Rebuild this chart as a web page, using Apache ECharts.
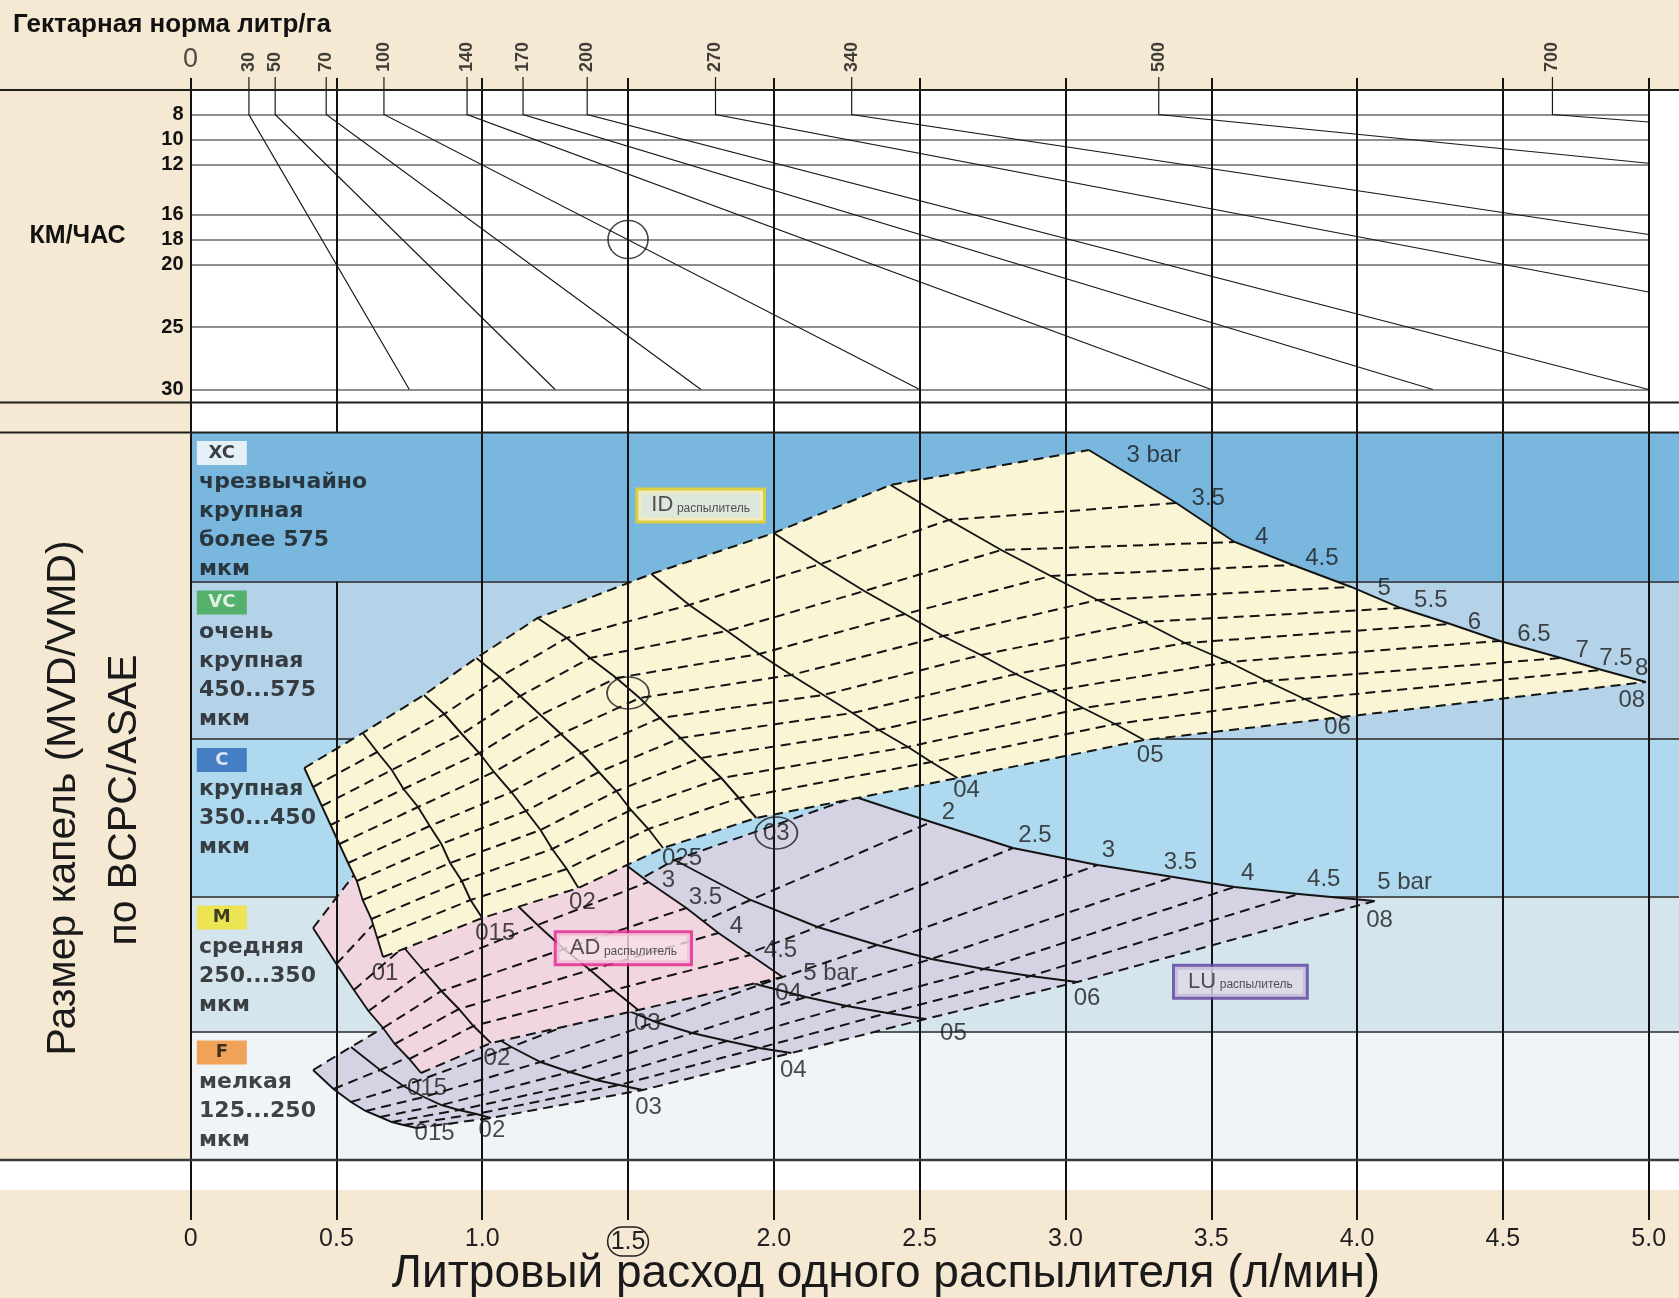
<!DOCTYPE html>
<html lang="ru">
<head>
<meta charset="utf-8">
<title>Номограмма</title>
<script src="https://cdn.jsdelivr.net/npm/echarts@6/dist/echarts.min.js"></script>
<style>
html,body{margin:0;padding:0;background:#ffffff;}
#chart{width:1679px;height:1298px;}
</style>
</head>
<body>
<div id="chart"></div>
<script>
// ================= DATA =================
const flowTicks = [0, 0.5, 1, 1.5, 2, 2.5, 3, 3.5, 4, 4.5, 5];
const flowTickLabels = ['0', '0.5', '1.0', '1.5', '2.0', '2.5', '3.0', '3.5', '4.0', '4.5', '5.0'];
const speedTicks = [8, 10, 12, 16, 18, 20, 25, 30];

// hectare-rate lines (l/ha): flow at 8 km/h and the end point of each line
const rateLabels = [30, 50, 70, 100, 140, 170, 200, 270, 340, 500, 700];
const rateFlowAt8 = [0.20, 0.29, 0.465, 0.663, 0.948, 1.14, 1.36, 1.80, 2.267, 3.32, 4.67];
const rateEndFlow = [0.75, 1.25, 1.75, 2.50, 3.50, 4.26, 5.00, 5.00, 5.00, 5.00, 5.00];
const rateEndSpeed = [30, 30, 30, 30, 30, 30, 30, 22.2, 17.6, 11.9, 8.6];

// droplet classes, bottom to top (relative droplet-size scale 0..728)
const dropletClasses = ['F', 'M', 'C', 'VC', 'XC'];
const dropletClassText = [
  'мелкая\n125...250\nмкм',
  'средняя\n250...350\nмкм',
  'крупная\n350...450\nмкм',
  'очень\nкрупная\n450...575\nмкм',
  'чрезвычайно\nкрупная\nболее 575\nмкм'
];
const dropletClassEdges = [0, 128.5, 263.5, 421, 578.5, 728];

// ---- ID nozzles: rows = nozzle size, columns = pressure ----
const idNozzles = ['01', '015', '02', '025', '03', '04', '05', '06', '08'];
const idPressures = [3, 3.5, 4, 4.5, 5, 5.5, 6, 6.5, 7, 7.5, 8];
const idFlow = [
  [0.39, 0.42, 0.45, 0.48, 0.51, 0.54, 0.57, 0.59, 0.62, 0.64, 0.66],
  [0.59, 0.64, 0.69, 0.73, 0.78, 0.82, 0.86, 0.89, 0.93, 0.96, 1.00],
  [0.80, 0.87, 0.93, 0.99, 1.04, 1.10, 1.15, 1.20, 1.24, 1.29, 1.33],
  [0.98, 1.06, 1.13, 1.20, 1.27, 1.34, 1.40, 1.46, 1.51, 1.57, 1.62],
  [1.19, 1.29, 1.37, 1.46, 1.54, 1.61, 1.68, 1.75, 1.82, 1.88, 1.94],
  [1.58, 1.71, 1.84, 1.95, 2.06, 2.17, 2.27, 2.36, 2.46, 2.54, 2.63],
  [2.00, 2.16, 2.31, 2.45, 2.58, 2.71, 2.83, 2.95, 3.06, 3.17, 3.27],
  [2.40, 2.60, 2.78, 2.95, 3.11, 3.27, 3.41, 3.56, 3.69, 3.82, 3.95],
  [3.08, 3.38, 3.58, 3.78, 3.98, 4.15, 4.32, 4.49, 4.70, 4.84, 4.99]
];
const idDrop = [
  [392, 373, 354, 335, 316, 297, 279, 260, 241, 222, 203],
  [427, 408, 390, 371, 353, 334, 316, 297, 279, 260, 242],
  [465, 446, 426, 407, 388, 368, 349, 330, 311, 291, 272],
  [502, 483, 464, 445, 426, 407, 388, 369, 350, 331, 312],
  [542, 522, 502, 482, 462, 442, 422, 402, 382, 362, 342],
  [586, 555, 529, 506, 485, 465, 447, 430, 413, 398, 382],
  [627, 596, 569, 546, 524, 505, 486, 469, 452, 436, 420],
  [675, 640, 610, 584, 560, 538, 517, 498, 479, 461, 443],
  [710, 657, 618, 595, 573, 552, 536, 519, 502, 490, 478]
];
const idPressureText = ['3 bar', '3.5', '4', '4.5', '5', '5.5', '6', '6.5', '7', '7.5', '8'];

// ---- AD nozzles ----
const adNozzles = ['015', '02', '03', '04'];
const adPressures = [1.5, 2, 2.5, 3, 3.5, 4, 4.5, 5];
const adFlow = [
  [0.42, 0.50, 0.56, 0.61, 0.66, 0.70, 0.75, 0.79],
  [0.56, 0.65, 0.73, 0.80, 0.86, 0.92, 0.97, 1.03],
  [0.84, 0.97, 1.09, 1.19, 1.28, 1.37, 1.45, 1.535],
  [1.11, 1.28, 1.43, 1.57, 1.70, 1.81, 1.92, 2.03]
];
const adDrop = [
  [232, 196, 170, 149, 132, 116, 101, 87],
  [285, 243, 213, 189, 169, 151, 134, 117],
  [348, 298, 263, 235, 211, 190, 170, 150],
  [404, 349, 309, 278, 252, 227, 205, 183]
];
const adPressureText = ['', '', '', '3', '3.5', '4', '4.5', '5 bar'];

// ---- LU nozzles ----
const luNozzles = ['015', '02', '03', '04', '05', '06', '08'];
const luPressures = [1.5, 2, 2.5, 3, 3.5, 4, 4.5, 5];
const luFlow = [
  [0.42, 0.49, 0.55, 0.60, 0.65, 0.69, 0.73, 0.775],
  [0.55, 0.65, 0.73, 0.80, 0.86, 0.92, 0.98, 1.03],
  [0.85, 0.98, 1.10, 1.20, 1.30, 1.39, 1.47, 1.55],
  [1.13, 1.30, 1.46, 1.595, 1.72, 1.84, 1.95, 2.06],
  [1.38, 1.59, 1.78, 1.95, 2.11, 2.25, 2.39, 2.52],
  [1.66, 1.92, 2.15, 2.355, 2.54, 2.72, 2.88, 3.04],
  [2.28, 2.54, 2.82, 3.11, 3.37, 3.58, 3.80, 4.06]
];
const luDrop = [
  [90, 71, 58, 49, 43, 38, 35, 32],
  [113, 90, 74, 63, 55, 50, 46, 42],
  [165, 134, 113, 98, 88, 80, 75, 70],
  [212, 177, 154, 138, 127, 119, 112, 107],
  [255, 217, 192, 175, 163, 154, 147, 141],
  [300, 260, 233, 215, 201, 191, 184, 178],
  [363, 338, 312, 295, 283, 273, 266, 259]
];
const luPressureText = ['', '2', '2.5', '3', '3.5', '4', '4.5', '5 bar'];

// worked example (circles): 1.5 l/min, 18 km/h, ID 03
const example = { flow: 1.5, speed: 18, drop: 467 };

// ================= LAYOUT / STYLE (not data) =================
const W = 1679, H = 1298;
const PLOT_LEFT = 190.6;
const X_MAX = 5.104;
const V_MIN = -60, V_MAX = 1082;
const BEIGE = '#f6e9d3';
const FONT = "'Liberation Sans', Arial, Helvetica, sans-serif";
const WIDE = "'DejaVu Sans', Verdana, sans-serif";
const INK = '#141414';

const classColors = ['#eff4f7', '#d4e5ee', '#afd9ee', '#b4d3e8', '#79b7df'];
const classBoxColors = ['#f08e2f', '#f2e32c', '#2c66b8', '#3ba94b', '#ffffff'];
const classBoxText = ['#111', '#111', '#fff', '#fff', '#111'];

const idPressOffsets = [[65, 5], [32, -5], [27, -5], [29, -7], [33, 1], [30, -8], [24, -2], [34, -7], [21, -8], [14, -12], [-4, -14]];
const adPressOffsets = [null, null, null, [20, -2], [19, -11], [18, -7], [30, -5], [48, -4]];
const luPressOffsets = [null, [17, -10], [22, -13], [11, -15], [7, -15], [13, -14], [25, -15], [30, -19]];
const idNozzleOffsets = [[2, 16], [13, 15], [4, 14], [19, 10], [20, 15], [9, 12], [6, 15], [-5, 10], [-14, 18]];
const adNozzleOffsets = [[6, 15], [6, 15], [9, 13], [6, 16]];
const luNozzleOffsets = [[18, 5], [1, 12], [6, 17], [2, 17], [28, 14], [10, 16], [5, 19]];

// ================= helpers =================
function outline(F, D) {
  const N = F.length, P = F[0].length, pts = [];
  for (let n = 0; n < N; n++) pts.push([F[n][0], D[n][0]]);
  for (let p = 1; p < P; p++) pts.push([F[N - 1][p], D[N - 1][p]]);
  for (let n = N - 2; n >= 0; n--) pts.push([F[n][P - 1], D[n][P - 1]]);
  for (let p = P - 2; p >= 1; p--) pts.push([F[0][p], D[0][p]]);
  return pts;
}
function pressureLines(F, D) {
  const out = [];
  for (let p = 0; p < F[0].length; p++) out.push({ coords: F.map((row, n) => [row[p], D[n][p]]) });
  return out;
}
function nozzleLines(F, D) {
  return F.map((row, n) => ({ coords: row.map((q, p) => [q, D[n][p]]) }));
}
function familySeries(F, D, fill, z) {
  return [
    {
      type: 'custom', coordinateSystem: 'cartesian2d', xAxisIndex: 0, yAxisIndex: 0,
      z: z, silent: true, data: [[F[0][0], D[0][0]]],
      renderItem: (params, api) => ({
        type: 'polygon',
        shape: { points: outline(F, D).map(p => api.coord(p)) },
        style: { fill: fill }
      })
    },
    {
      type: 'lines', coordinateSystem: 'cartesian2d', xAxisIndex: 0, yAxisIndex: 0,
      polyline: true, z: z + 1, silent: true, data: pressureLines(F, D),
      lineStyle: { color: INK, width: 2, type: [10, 6], opacity: 1 }
    },
    {
      type: 'lines', coordinateSystem: 'cartesian2d', xAxisIndex: 0, yAxisIndex: 0,
      polyline: true, z: z + 2, silent: true, data: nozzleLines(F, D),
      lineStyle: { color: INK, width: 1.9, opacity: 1 }
    }
  ];
}
function textItem(coord, text, extra) {
  return {
    value: coord,
    label: Object.assign({
      show: true, position: 'inside', formatter: text,
      fontFamily: FONT, fontSize: 24, color: '#1c1c1c'
    }, extra || {})
  };
}
function labelSeries(items, z, axisIdx) {
  const a = axisIdx || 0;
  return {
    type: 'scatter', xAxisIndex: a, yAxisIndex: a, z: z, silent: true, clip: false,
    symbolSize: 1, itemStyle: { color: 'rgba(0,0,0,0)' }, data: items
  };
}
function lastPoint(F, D, n) { const P = F[n].length; return [F[n][P - 1], D[n][P - 1]]; }

// ================= build series =================
const series = [];

// droplet class bands
series.push({
  type: 'custom', coordinateSystem: 'cartesian2d', xAxisIndex: 0, yAxisIndex: 0, z: 1, silent: true,
  data: dropletClasses.map((c, i) => [0, dropletClassEdges[i]]),
  renderItem: (params, api) => {
    const i = params.dataIndex;
    const a = api.coord([0, dropletClassEdges[i + 1]]);
    const b = api.coord([X_MAX, dropletClassEdges[i]]);
    return { type: 'rect', shape: { x: a[0], y: a[1], width: b[0] - a[0], height: b[1] - a[1] }, style: { fill: classColors[i] } };
  }
});
// band boundary lines
series.push({
  type: 'lines', coordinateSystem: 'cartesian2d', xAxisIndex: 0, yAxisIndex: 0, z: 2, silent: true,
  data: dropletClassEdges.slice(1, -1).map(e => ({ coords: [[0, e], [X_MAX, e]] })),
  lineStyle: { color: '#262626', width: 1.6, opacity: 1 }
});

// nozzle families (LU under AD under ID)
series.push(...familySeries(luFlow, luDrop, '#d4d2e3', 3));
series.push(...familySeries(adFlow, adDrop, '#f2d6df', 6));
series.push(...familySeries(idFlow, idDrop, '#faf5d4', 9));

// vertical flow grid lines (the 0.5 line is interrupted in the XC class label area)
const vSegs = [];
flowTicks.forEach(x => {
  if (x === 0.5) {
    vSegs.push({ coords: [[x, V_MIN], [x, dropletClassEdges[4]]] });
    vSegs.push({ coords: [[x, dropletClassEdges[5]], [x, V_MAX]] });
  } else {
    vSegs.push({ coords: [[x, V_MIN], [x, V_MAX]] });
  }
});
series.push({
  type: 'lines', coordinateSystem: 'cartesian2d', xAxisIndex: 0, yAxisIndex: 0, z: 14, silent: true,
  data: vSegs, lineStyle: { color: '#121212', width: 2, opacity: 1 }
});

// ---- top panel (grid 1) ----
series.push({
  type: 'lines', coordinateSystem: 'cartesian2d', xAxisIndex: 1, yAxisIndex: 1, z: 3, silent: true,
  data: speedTicks.map(s => ({ coords: [[0, s], [5, s]] })),
  lineStyle: { color: '#8e8e8e', width: 2, opacity: 1 }
});
series.push({
  type: 'lines', coordinateSystem: 'cartesian2d', xAxisIndex: 1, yAxisIndex: 1, z: 4, silent: true, polyline: true,
  data: rateLabels.map((r, i) => ({ coords: [[rateFlowAt8[i], 5], [rateFlowAt8[i], 8], [rateEndFlow[i], rateEndSpeed[i]]] })),
  lineStyle: { color: '#1a1a1a', width: 1.2, opacity: 1 }
});
series.push(labelSeries(rateLabels.map((r, i) => textItem([rateFlowAt8[i], 4.6], String(r), {
  rotate: 90, align: 'left', verticalAlign: 'middle', fontWeight: 'bold', fontSize: 18, color: '#111'
})).concat([textItem([0, 3.64], '0', { fontSize: 27, color: '#222' })]), 20, 1));
// top circle of the worked example
series.push({
  type: 'scatter', xAxisIndex: 1, yAxisIndex: 1, z: 20, silent: true, clip: false,
  symbol: 'circle', symbolSize: [40, 38],
  itemStyle: { color: 'rgba(0,0,0,0)', borderColor: '#1a1a1a', borderWidth: 1.6 },
  data: [[example.flow, example.speed]]
});

// ---- labels in the droplet panel ----
const labelItems = [];
// droplet class texts and coloured code boxes
dropletClasses.forEach((c, i) => {
  const top = dropletClassEdges[i + 1];
  labelItems.push(textItem([0.107, top - 21], c, {
    width: 50, height: 24, lineHeight: 24, align: 'center', verticalAlign: 'middle',
    backgroundColor: classBoxColors[i], color: classBoxText[i],
    fontFamily: WIDE, fontWeight: 'bold', fontSize: 18
  }));
  labelItems.push(textItem([0.029, top - 36], dropletClassText[i], {
    align: 'left', verticalAlign: 'top', fontFamily: WIDE, fontWeight: 'bold',
    fontSize: 22, lineHeight: 29, color: '#151515'
  }));
});
// pressure labels
function pressureLabelItems(F, D, texts, offsets) {
  const n = F.length - 1;
  texts.forEach((t, p) => {
    if (!t) return;
    labelItems.push(textItem([F[n][p], D[n][p]], t, { offset: offsets[p] }));
  });
}
pressureLabelItems(idFlow, idDrop, idPressureText, idPressOffsets);
pressureLabelItems(adFlow, adDrop, adPressureText, adPressOffsets);
pressureLabelItems(luFlow, luDrop, luPressureText, luPressOffsets);
// nozzle size labels at the high-pressure ends
idNozzles.forEach((nz, n) => labelItems.push(textItem(lastPoint(idFlow, idDrop, n), nz, { offset: idNozzleOffsets[n] })));
adNozzles.forEach((nz, n) => labelItems.push(textItem(lastPoint(adFlow, adDrop, n), nz, { offset: adNozzleOffsets[n] })));
luNozzles.forEach((nz, n) => labelItems.push(textItem(lastPoint(luFlow, luDrop, n), nz, { offset: luNozzleOffsets[n] })));
// nozzle family name boxes
function familyBox(coord, name, fill, border) {
  return textItem(coord, '{a|' + name + '} {b|распылитель}', {
    backgroundColor: fill, borderColor: border, borderWidth: 3, padding: [3, 13, 3, 13],
    fontSize: 13, color: '#333',
    rich: {
      a: { fontSize: 22, fontFamily: FONT, color: '#2a2a2a', lineHeight: 24 },
      b: { fontSize: 12, fontFamily: FONT, color: '#2a2a2a', padding: [6, 0, 0, 0] }
    }
  });
}
labelItems.push(familyBox([1.749, 654.6], 'ID', '#f8f3d9', '#f2d416'));
labelItems.push(familyBox([1.484, 211.8], 'AD', '#f6e0e8', '#e0238c'));
labelItems.push(familyBox([3.60, 178.3], 'LU', '#dcdae6', '#5b3f9e'));
series.push(labelSeries(labelItems, 20, 0));

// circles: worked example on ID 03 and the circled "03" label
series.push({
  type: 'scatter', xAxisIndex: 0, yAxisIndex: 0, z: 21, silent: true, clip: false,
  symbol: 'circle', itemStyle: { color: 'rgba(0,0,0,0)', borderColor: '#1a1a1a', borderWidth: 1.6 },
  data: [
    { value: [example.flow, example.drop], symbolSize: [42, 32] },
    { value: lastPoint(idFlow, idDrop, 4), symbolSize: [42, 32], symbolOffset: idNozzleOffsets[4] }
  ]
});

// ================= option =================
const option = {
  animation: false,
  backgroundColor: '#ffffff',
  grid: [
    { left: PLOT_LEFT, right: 0, top: 78, bottom: 78, containLabel: false, outerBoundsMode: 'none' },
    { left: PLOT_LEFT, right: 0, top: 77, height: 325, containLabel: false, outerBoundsMode: 'none' }
  ],
  xAxis: [
    {
      type: 'value', gridIndex: 0, min: 0, max: X_MAX, interval: 0.5,
      axisLine: { show: false }, axisTick: { show: false }, splitLine: { show: false },
      axisLabel: {
        margin: 7, fontFamily: FONT, fontSize: 25, color: '#222',
        formatter: v => {
          const i = flowTicks.findIndex(t => Math.abs(t - v) < 1e-6);
          if (i < 0) return '';
          return flowTicks[i] === example.flow ? '{c|' + flowTickLabels[i] + '}' : flowTickLabels[i];
        },
        rich: {
          c: { fontFamily: FONT, fontSize: 25, color: '#222', borderColor: '#222', borderWidth: 1.5,
               borderRadius: 15, padding: [3, 3, 1, 3] }
        }
      }
    },
    { type: 'value', gridIndex: 1, min: 0, max: X_MAX, show: false }
  ],
  yAxis: [
    { type: 'value', gridIndex: 0, min: V_MIN, max: V_MAX, show: false },
    {
      type: 'value', gridIndex: 1, min: 5, max: 31, interval: 1, inverse: true,
      axisLine: { show: false }, axisTick: { show: false }, splitLine: { show: false },
      axisLabel: {
        margin: 7, fontFamily: FONT, fontWeight: 'bold', fontSize: 20, color: '#111',
        formatter: v => (speedTicks.indexOf(v) >= 0 ? String(v) : '')
      }
    }
  ],
  graphic: {
    elements: [
      { type: 'rect', z: -10, silent: true, shape: { x: 0, y: 0, width: W, height: 90 }, style: { fill: BEIGE } },
      { type: 'rect', z: -10, silent: true, shape: { x: 0, y: 90, width: PLOT_LEFT, height: 1070 }, style: { fill: BEIGE } },
      { type: 'rect', z: -10, silent: true, shape: { x: 0, y: 1190, width: W, height: H - 1190 }, style: { fill: BEIGE } },
      { type: 'line', z: 60, silent: true, shape: { x1: 0, y1: 90, x2: W, y2: 90 }, style: { stroke: '#1e1e1e', lineWidth: 2 } },
      { type: 'line', z: 60, silent: true, shape: { x1: 0, y1: 402.5, x2: W, y2: 402.5 }, style: { stroke: '#1e1e1e', lineWidth: 2 } },
      { type: 'line', z: 60, silent: true, shape: { x1: 0, y1: 432.5, x2: W, y2: 432.5 }, style: { stroke: '#1e1e1e', lineWidth: 2 } },
      { type: 'line', z: 60, silent: true, shape: { x1: 0, y1: 1160, x2: W, y2: 1160 }, style: { stroke: '#3a3a3a', lineWidth: 2.5 } },
      { type: 'text', z: 60, silent: true, x: 13, y: 25,
        style: { text: 'Гектарная норма литр/га', font: 'bold 26px ' + FONT, fill: '#111', align: 'left', verticalAlign: 'middle', textAlign: 'left', textVerticalAlign: 'middle' } },
      { type: 'text', z: 60, silent: true, x: 77.6, y: 236,
        style: { text: 'КМ/ЧАС', font: 'bold 25px ' + FONT, fill: '#111', align: 'center', verticalAlign: 'middle', textAlign: 'center', textVerticalAlign: 'middle' } },
      { type: 'text', z: 60, silent: true, x: 64, y: 798, rotation: Math.PI / 2,
        style: { text: 'Размер капель (MVD/VMD)', font: '41px ' + FONT, fill: '#1a1a1a', align: 'center', verticalAlign: 'middle', textAlign: 'center', textVerticalAlign: 'middle' } },
      { type: 'text', z: 60, silent: true, x: 125, y: 800, rotation: Math.PI / 2,
        style: { text: 'по BCPC/ASAE', font: '41px ' + FONT, fill: '#1a1a1a', align: 'center', verticalAlign: 'middle', textAlign: 'center', textVerticalAlign: 'middle' } },
      { type: 'text', z: 60, silent: true, x: 886, y: 1274,
        style: { text: 'Литровый расход одного распылителя (л/мин)', font: '46px ' + FONT, fill: '#1a1a1a', align: 'center', verticalAlign: 'middle', textAlign: 'center', textVerticalAlign: 'middle' } }
    ]
  },
  series: series
};

const chart = echarts.init(document.getElementById('chart'), null, { renderer: 'canvas', width: W, height: H });
chart.setOption(option);
</script>
</body>
</html>
